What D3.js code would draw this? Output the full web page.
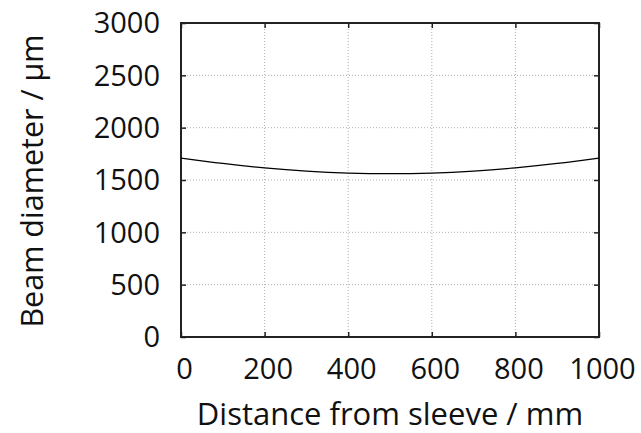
<!DOCTYPE html>
<html>
<head>
<meta charset="utf-8">
<script src="https://cdn.jsdelivr.net/npm/d3@7"></script>
<style>
  body { margin: 0; background: #fff; }
  text { font-family: "Open Sans", "Noto Sans", sans-serif; fill: #111; }
</style>
</head>
<body>
<div id="chart"></div>
<script>
// beam profile
const distance = [0, 100, 200, 300, 400, 500, 600, 700, 800, 900, 1000];
const diameter = [1710, 1658, 1616, 1585, 1566, 1560, 1566, 1585, 1616, 1658, 1710];
const xTicks = [0, 200, 400, 600, 800, 1000];
const yTicks = [0, 500, 1000, 1500, 2000, 2500, 3000];

const width = 641, height = 433;
const margin = {top: 23, right: 42, bottom: 96, left: 181};
const innerW = width - margin.left - margin.right;
const innerH = height - margin.top - margin.bottom;

let svg = d3.select("#chart")
    .append("svg")
    .attr("width", width)
    .attr("height", height)
    .append("g")
    .attr("transform", `translate(${margin.left}, ${margin.top})`);

let x = d3.scaleLinear().domain([0, 1000]).range([0, innerW]);
let y = d3.scaleLinear().domain([0, 3000]).range([innerH, 0]);

// grid
let grid = svg.append("g");
grid.selectAll(".gx").data(xTicks.slice(1, -1)).enter().append("line")
    .attr("x1", d => x(d)).attr("x2", d => x(d))
    .attr("y1", 0).attr("y2", innerH)
    .attr("stroke", "#b0b0b0").attr("stroke-width", 1).attr("stroke-dasharray", "1,2");
grid.selectAll(".gy").data(yTicks.slice(1, -1)).enter().append("line")
    .attr("x1", 0).attr("x2", innerW)
    .attr("y1", d => y(d)).attr("y2", d => y(d))
    .attr("stroke", "#b0b0b0").attr("stroke-width", 1).attr("stroke-dasharray", "1,2");

// axes, ticks inward and mirrored
let xAxis = svg.append("g").attr("transform", `translate(0, ${innerH})`)
    .call(d3.axisBottom(x).tickValues(xTicks).tickSize(-5).tickFormat(d3.format("d")));
let xTop = svg.append("g")
    .call(d3.axisTop(x).tickValues(xTicks).tickSize(-5).tickFormat(""));
let yAxis = svg.append("g")
    .call(d3.axisLeft(y).tickValues(yTicks).tickSize(-5).tickFormat(d3.format("d")));
let yRight = svg.append("g").attr("transform", `translate(${innerW}, 0)`)
    .call(d3.axisRight(y).tickValues(yTicks).tickSize(-5).tickFormat(""));

[xAxis, xTop, yAxis, yRight].forEach(a => {
    a.select(".domain").remove();
    a.selectAll(".tick line").attr("stroke", "#222").attr("stroke-width", 1.5);
    a.selectAll("text").style("font-size", "29px").attr("fill", "#111");
});
xAxis.selectAll("text").attr("y", 42).attr("dy", 0).attr("dx", "3px");
yAxis.selectAll("text").attr("x", -21).attr("dy", "0.34em");

// border
svg.append("rect")
    .attr("x", 0).attr("y", 0)
    .attr("width", innerW).attr("height", innerH)
    .attr("fill", "none").attr("stroke", "#222").attr("stroke-width", 2);

// beam curve
let line = d3.line()
    .x((d, i) => x(distance[i]))
    .y(d => y(d))
    .curve(d3.curveMonotoneX);
svg.append("path")
    .datum(diameter)
    .attr("d", line)
    .attr("fill", "none")
    .attr("stroke", "#000")
    .attr("stroke-width", 1.2);

// axis titles
svg.append("text")
    .attr("transform", `translate(${390 - margin.left}, ${425 - margin.top})`)
    .style("text-anchor", "middle")
    .style("font-size", "31px")
    .text("Distance from sleeve / mm");

svg.append("text")
    .attr("transform", `translate(${43 - margin.left}, ${181 - margin.top}) rotate(-90)`)
    .style("text-anchor", "middle")
    .style("font-size", "30.5px")
    .text("Beam diameter / μm");
</script>
</body>
</html>
